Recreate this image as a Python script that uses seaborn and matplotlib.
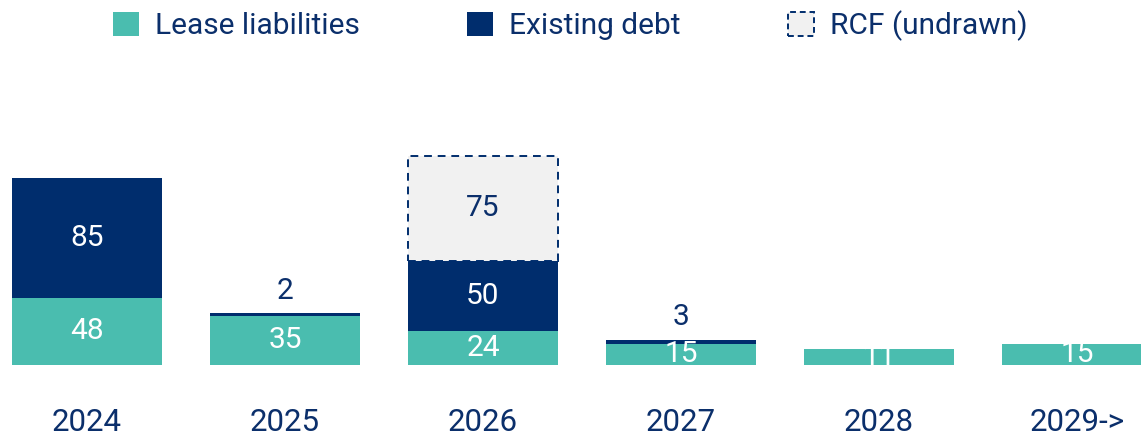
import numpy as np
import pandas as pd
import seaborn as sns
import matplotlib.pyplot as plt
from matplotlib.patches import Patch

years = ["2024", "2025", "2026", "2027", "2028", "2029->"]
lease = [48, 35, 24, 15, 11, 15]
debt = [85, 2, 50, 3, 0, 0]
rcf = [0, 0, 75, 0, 0, 0]

TEAL = "#4abdaf"
NAVY = "#002d6d"
GREY = "#f1f1f1"
TXT = "#0b2f6b"

sns.set_style("white")
plt.rcParams["font.family"] = ["Roboto", "DejaVu Sans"]

df = pd.DataFrame({"year": years, "lease": lease, "debt": debt, "rcf": rcf})
df["debt_bottom"] = df["lease"]
df["rcf_bottom"] = df["lease"] + df["debt"]

fig = plt.figure(figsize=(11.41, 4.37), dpi=100)
ax = fig.add_axes([0, 0.165, 1, 0.61])

w = 0.758
sns.barplot(data=df, x="year", y="lease", order=years, color=TEAL,
            width=w, linewidth=0, saturation=1, ax=ax)
sns.barplot(data=df, x="year", y="debt", order=years, color=NAVY,
            width=w, linewidth=0, saturation=1, bottom=df["debt_bottom"], ax=ax)
r = df[df["rcf"] > 0]
sns.barplot(data=r, x="year", y="rcf", order=years, color=GREY,
            width=w, saturation=1, bottom=r["rcf_bottom"].values,
            edgecolor=NAVY, linewidth=1.4, linestyle=(0, (4, 3)), ax=ax)

fs = 21.5
for i, row in df.iterrows():
    ax.text(i, row["lease"] / 2, str(row["lease"]), ha="center", va="center",
            color="white", fontsize=fs)
    if row["debt"] > 10:
        ax.text(i, row["lease"] + row["debt"] / 2, str(row["debt"]),
                ha="center", va="center", color="white", fontsize=fs)
    elif row["debt"] > 0:
        ax.annotate(str(row["debt"]), (i, row["lease"] + row["debt"]),
                    xytext=(0, 6), textcoords="offset points",
                    ha="center", va="bottom", color=TXT, fontsize=fs)
    if row["rcf"] > 0:
        ax.text(i, row["rcf_bottom"] + row["rcf"] / 2, str(row["rcf"]),
                ha="center", va="center", color=TXT, fontsize=fs)

ax.set_xlim(-0.439, 5.323)
ax.set_ylim(0, 190)
ax.set_xlabel("")
ax.set_ylabel("")
ax.set_yticks([])
ax.tick_params(axis="x", length=0, pad=31, labelsize=22.5, labelcolor=TXT)
sns.despine(ax=ax, left=True, bottom=True)

handles = [
    Patch(facecolor=TEAL, edgecolor="none", label="Lease liabilities"),
    Patch(facecolor=NAVY, edgecolor="none", label="Existing debt"),
    Patch(facecolor=GREY, edgecolor=NAVY, linestyle=(0, (3, 2)), linewidth=1.4,
          label="RCF (undrawn)"),
]
leg = fig.legend(handles=handles, loc="upper center", bbox_to_anchor=(0.5, 1.038),
                 ncol=3, frameon=False, fontsize=21.5, handlelength=0.85,
                 handleheight=0.85, handletextpad=0.55, columnspacing=3.6)
for t in leg.get_texts():
    t.set_color(TXT)

fig.savefig("out.png", dpi=100)
